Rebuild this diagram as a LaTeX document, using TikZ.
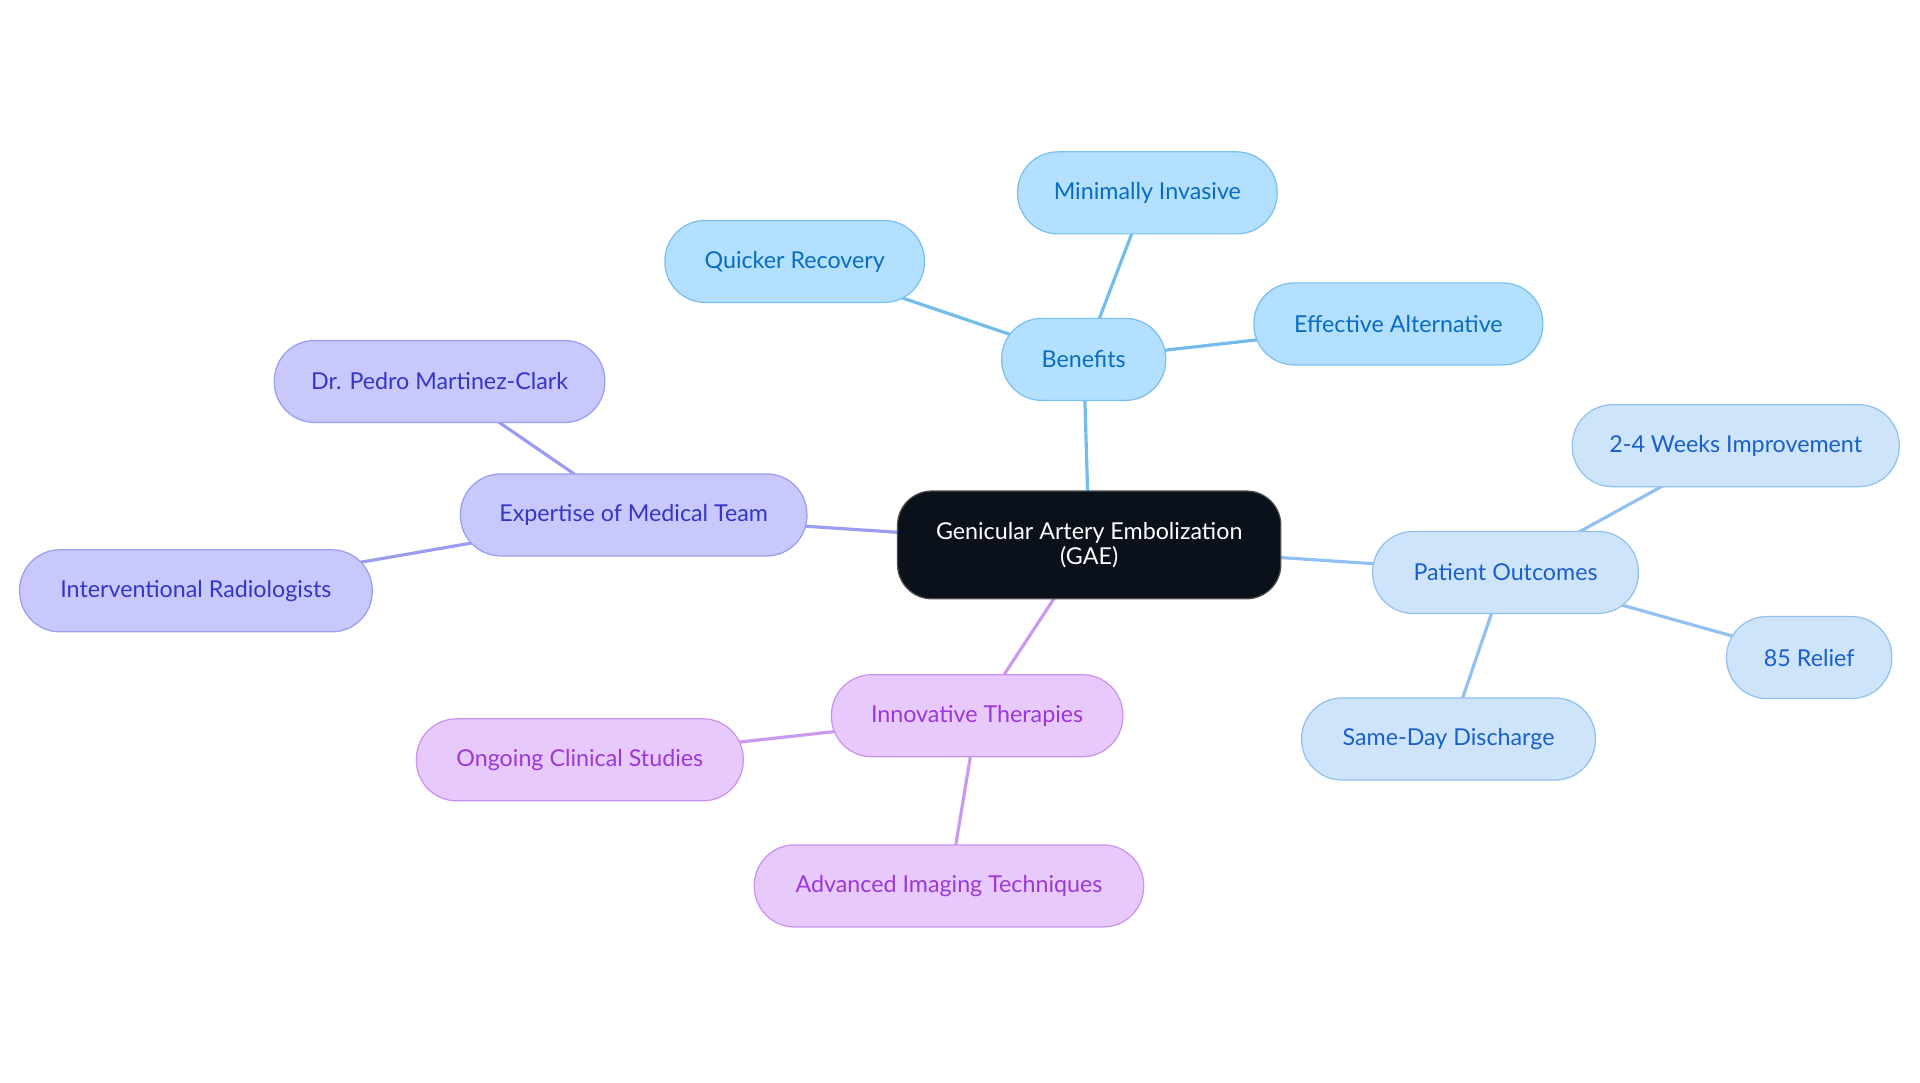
\documentclass[tikz,border=0pt]{standalone}
\usepackage{fontspec}
\setmainfont{Lato}
\usetikzlibrary{backgrounds}
\definecolor{cfill}{HTML}{0B111B}
\definecolor{bfill}{HTML}{B3E0FE}\definecolor{bdraw}{HTML}{79C0F0}\definecolor{btext}{HTML}{0A6CC0}\definecolor{bline}{HTML}{72BCEE}
\definecolor{pfill}{HTML}{CDE4FB}\definecolor{pdraw}{HTML}{92C0F0}\definecolor{ptext}{HTML}{1A5FCC}\definecolor{pline}{HTML}{92C0F0}
\definecolor{efill}{HTML}{C8C8FC}\definecolor{edraw}{HTML}{9A9CF0}\definecolor{etext}{HTML}{3535C8}\definecolor{eline}{HTML}{9A9CF0}
\definecolor{ifill}{HTML}{E8C9FC}\definecolor{idraw}{HTML}{C992F0}\definecolor{itext}{HTML}{9A38D8}\definecolor{iline}{HTML}{C99AF0}
\tikzset{
  box/.style={rectangle, rounded corners=33pt, minimum height=67pt, inner sep=0pt, line width=1pt, font=\fontsize{19}{22}\selectfont},
  bbox/.style={box, fill=bfill, draw=bdraw, text=btext},
  pbox/.style={box, fill=pfill, draw=pdraw, text=ptext},
  ebox/.style={box, fill=efill, draw=edraw, text=etext},
  ibox/.style={box, fill=ifill, draw=idraw, text=itext},
  centerbox/.style={rectangle, rounded corners=28pt, minimum width=313pt, minimum height=88pt, inner sep=0pt, fill=cfill, draw=black!70, line width=1pt, text=white, align=center, font=\fontsize{19}{20}\selectfont},
  conn/.style={line width=2.6pt},
}
\begin{document}
\begin{tikzpicture}[x=1pt,y=-1pt]
\useasboundingbox (0,0) rectangle (1568,884);
\node[centerbox] (c) at (889.5,445) {Genicular Artery Embolization\\(GAE)};
\node[bbox, minimum width=134pt] (ben) at (885,293.5) {Benefits};
\node[bbox, minimum width=212pt] (min) at (937,157.5) {Minimally Invasive};
\node[bbox, minimum width=212pt] (qui) at (649,213.5) {Quicker Recovery};
\node[bbox, minimum width=236pt] (eff) at (1142,264.5) {Effective Alternative};
\node[pbox, minimum width=217pt] (pat) at (1229.5,467.5) {Patient Outcomes};
\node[pbox, minimum width=267pt] (wks) at (1417.5,364) {2-4 Weeks Improvement};
\node[pbox, minimum width=135pt] (rel) at (1477.5,537) {85 Relief};
\node[pbox, minimum width=240pt] (sam) at (1183,603.5) {Same-Day Discharge};
\node[ebox, minimum width=283pt] (exp) at (517.5,420.5) {Expertise of Medical Team};
\node[ebox, minimum width=270pt] (dr) at (359,311.5) {Dr. Pedro Martinez-Clark};
\node[ebox, minimum width=288pt] (int) at (160,482.5) {Interventional Radiologists};
\node[ibox, minimum width=238pt] (inn) at (798,584.5) {Innovative Therapies};
\node[ibox, minimum width=267pt] (ong) at (473.5,620.5) {Ongoing Clinical Studies};
\node[ibox, minimum width=318pt] (adv) at (775,723.5) {Advanced Imaging Techniques};
\begin{scope}[on background layer]
\draw[conn, bline] (c.center) -- (ben.center);
\draw[conn, bline] (ben.center) -- (min.center);
\draw[conn, bline] (ben.center) -- (qui.center);
\draw[conn, bline] (ben.center) -- (eff.center);
\draw[conn, pline] (c.center) -- (pat.center);
\draw[conn, pline] (pat.center) -- (wks.center);
\draw[conn, pline] (pat.center) -- (rel.center);
\draw[conn, pline] (pat.center) -- (sam.center);
\draw[conn, eline] (c.center) -- (exp.center);
\draw[conn, eline] (exp.center) -- (dr.center);
\draw[conn, eline] (exp.center) -- (int.center);
\draw[conn, iline] (c.center) -- (inn.center);
\draw[conn, iline] (inn.center) -- (ong.center);
\draw[conn, iline] (inn.center) -- (adv.center);
\end{scope}
\end{tikzpicture}
\end{document}
